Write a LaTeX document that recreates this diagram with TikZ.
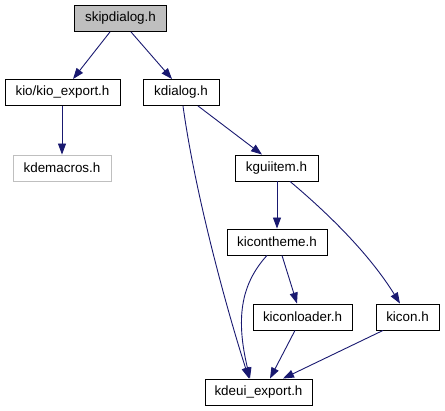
\documentclass[tikz,border=0pt]{standalone}
\usepackage{fontspec}
\setmainfont{Liberation Sans}
\usetikzlibrary{arrows.meta}
\definecolor{edgeblue}{HTML}{191970}
\definecolor{boxgray}{HTML}{BFBFBF}
\begin{document}
\begin{tikzpicture}[x=1pt,y=-1pt,
  hbox/.style={draw=black,line width=0.9pt,fill=white,inner sep=0pt,minimum height=26pt,font=\fontsize{13.4}{15}\selectfont},
  edge/.style={draw=edgeblue,line width=0.9pt,-{Triangle[length=11pt,width=8pt]}}]
\useasboundingbox (0,0) rectangle (445,411);
\node[hbox,fill=boxgray,minimum width=92pt] (skip) at (120.5,18.5) {skipdialog.h};
\node[hbox,minimum width=115pt] (kio) at (62.5,92.5) {kio/kio\_export.h};
\node[hbox,minimum width=76pt] (kdialog) at (181,92.5) {kdialog.h};
\node[hbox,draw=boxgray,minimum width=98pt] (kdemacros) at (62,168) {kdemacros.h};
\node[hbox,minimum width=83pt] (kguiitem) at (276.5,168) {kguiitem.h};
\node[hbox,minimum width=100pt] (kicontheme) at (277,242) {kicontheme.h};
\node[hbox,minimum width=99pt] (kiconloader) at (302.5,317) {kiconloader.h};
\node[hbox,minimum width=63pt] (kicon) at (407.5,317) {kicon.h};
\node[hbox,minimum width=107pt] (kdeui) at (258.5,392) {kdeui\_export.h};

\draw[edge] (skip.south -| 110,0) -- (kio.north -| 73,0);
\draw[edge] (skip.south -| 131,0) -- (kdialog.north -| 172,0);
\draw[edge] (kio.south -| 62,0) -- (kdemacros.north -| 62,0);
\draw[edge] (kdialog.south -| 198,0) -- (kguiitem.north -| 262,0);
\draw[edge] (kdialog.south -| 183,0) .. controls (196,200) and (230,320) .. (kdeui.north -| 249,0);
\draw[edge] (kguiitem.south -| 277,0) -- (kicontheme.north -| 277,0);
\draw[edge] (kguiitem.south -| 290,0) .. controls (330,215) and (370,255) .. (kicon.north -| 400,0);
\draw[edge] (kicontheme.south -| 282,0) -- (kiconloader.north -| 297,0);
\draw[edge] (kicontheme.south -| 267,0) .. controls (240,285) and (236,320) .. (kdeui.north -| 250,0);
\draw[edge] (kiconloader.south -| 295,0) -- (kdeui.north -| 270,0);
\draw[edge] (kicon.south -| 383,0) -- (kdeui.north -| 283,0);
\end{tikzpicture}
\end{document}
